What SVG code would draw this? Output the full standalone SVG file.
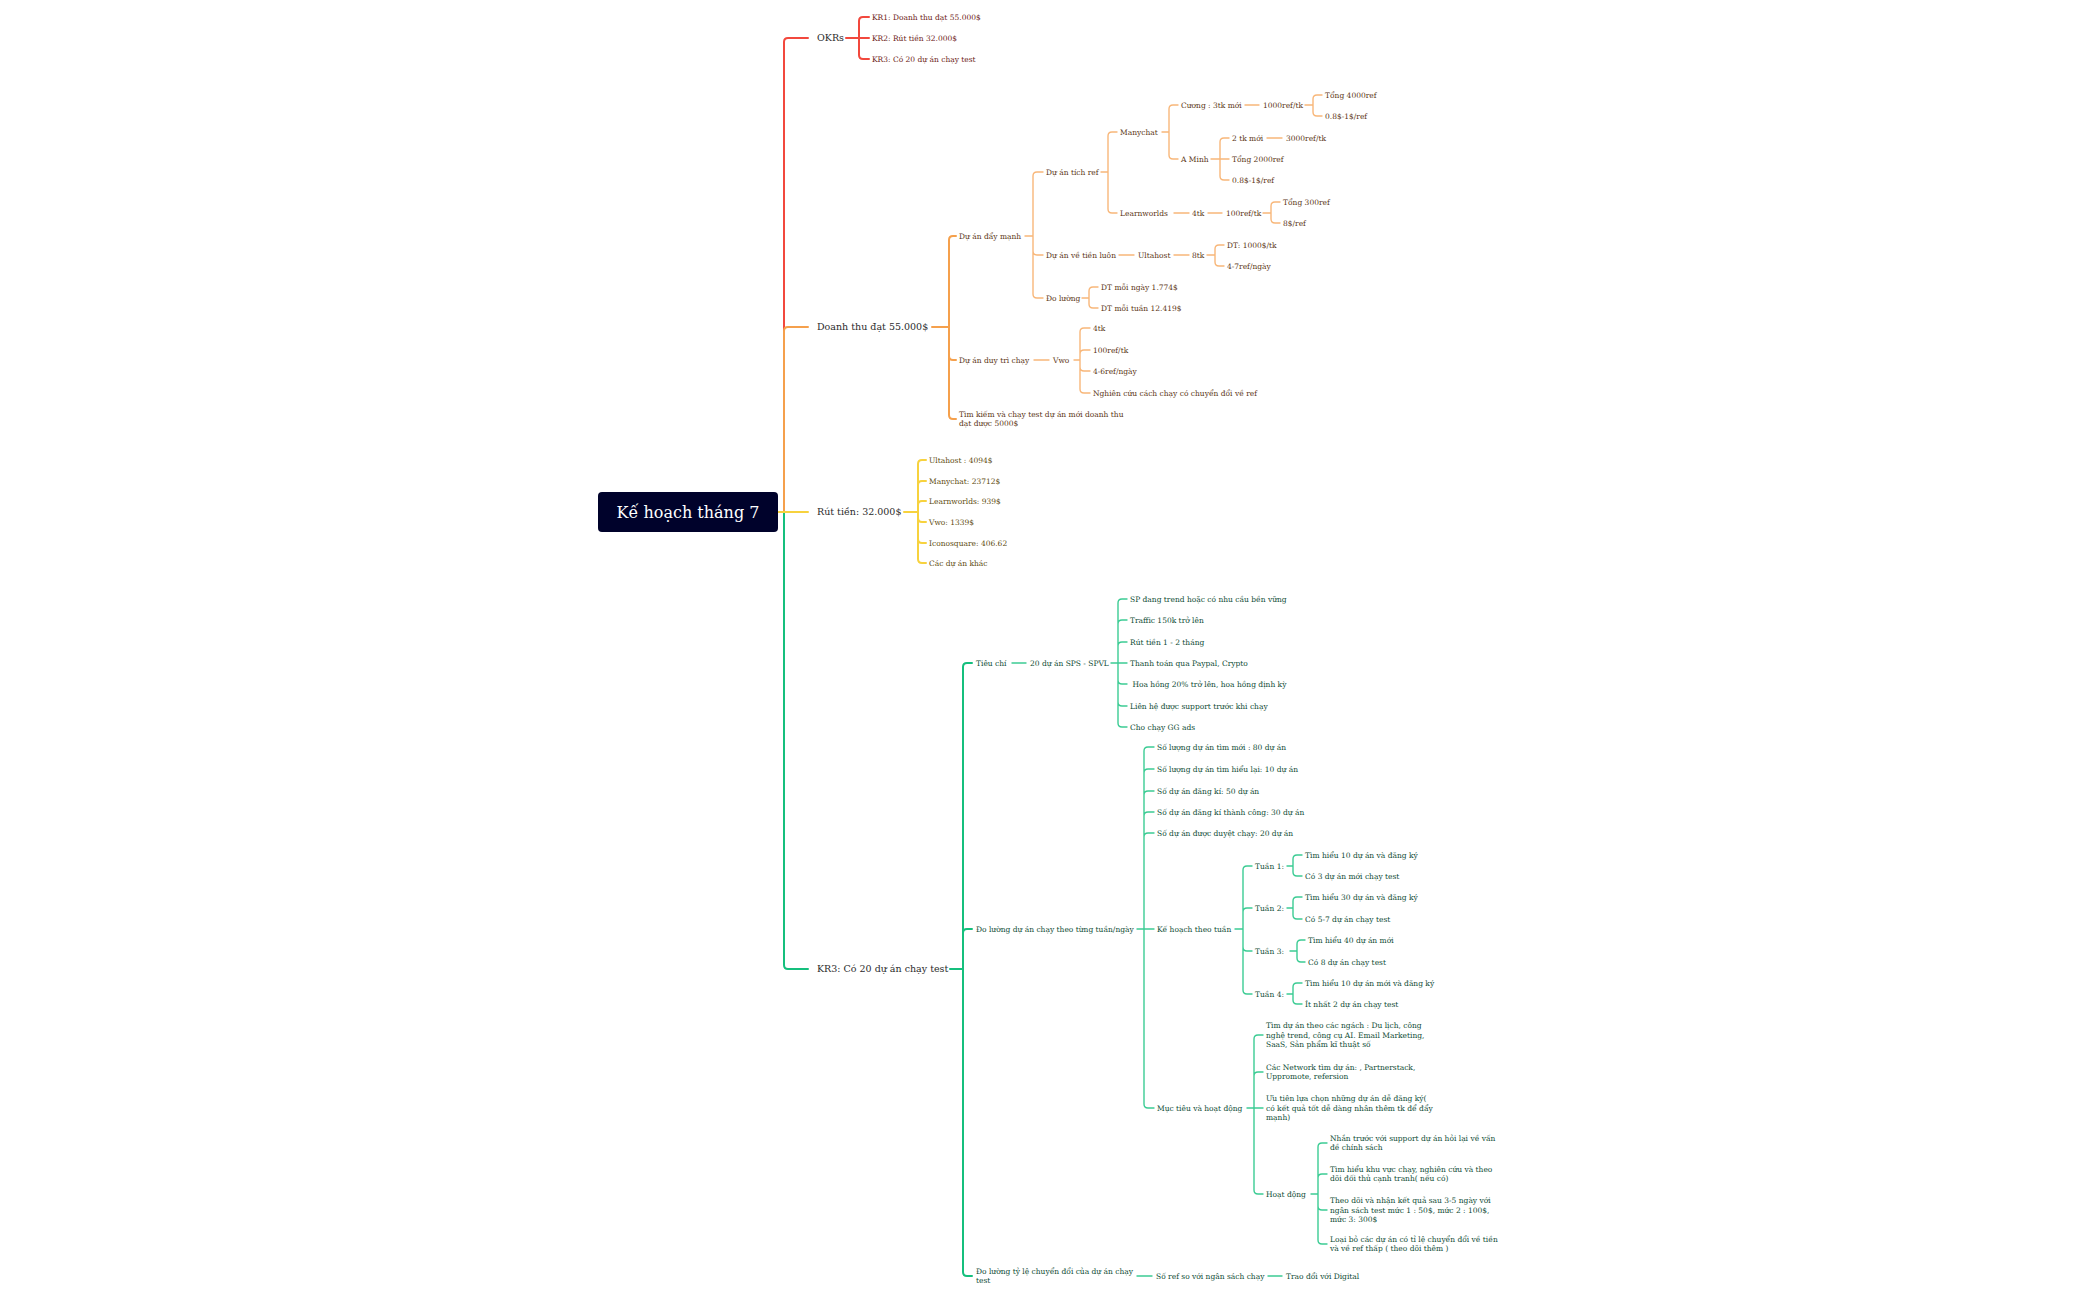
<svg xmlns="http://www.w3.org/2000/svg" width="2100" height="1299" viewBox="0 0 2100 1299">
<style>
text{font-family:"DejaVu Serif","Liberation Serif",serif}
.m{font-size:9.5px;fill:#2b2b2b}
.l{font-size:7.5px}
.tr{fill:#6e1d18}.to{fill:#5c3615}.ty{fill:#5e4c10}.tg{fill:#0f4c35}
.root{font-size:16px;fill:#ffffff}
path{fill:none;stroke-linecap:round;stroke-linejoin:round}
.cr{stroke:#f2483d;stroke-width:2}
.co{stroke:#f5a04c;stroke-width:2}
.co2{stroke:#f8b77a;stroke-width:1.4}
.cy{stroke:#f7d23e;stroke-width:2}
.cg{stroke:#15bf7d;stroke-width:2}
.cg2{stroke:#3ccc94;stroke-width:1.4}
</style>
<rect width="2100" height="1299" fill="#ffffff"/>
<g id="connectors">
<!-- trunk -->
<path class="cr" d="M778,512 H784 V42 Q784,38 788,38 H808"/>
<path class="co" d="M778,512 H784 V331 Q784,327 788,327 H808"/>
<path class="cg" d="M778,512 H784 V965 Q784,969 788,969 H808"/>
<path class="cy" d="M778,512 H808"/>
<!-- OKRs -->
<path class="cr" d="M846,38 H859 M859,38 V21 Q859,17 863,17 H869 M859,38 H869 M859,38 V55 Q859,59 863,59 H869"/>
<!-- Doanh thu -->
<path class="co" d="M932,327 H949 M949,327 V240 Q949,236 953,236 H956 M949,327 V356 Q949,360 953,360 H956 M949,327 V415 Q949,419 953,419 H956"/>
<path class="co2" d="M1025,236 H1033 M1033,236 V176 Q1033,172 1037,172 H1043 M1033,236 V251 Q1033,255 1037,255 H1043 M1033,236 V294 Q1033,298 1037,298 H1043"/>
<path class="co2" d="M1101,172 H1108 M1108,172 V136 Q1108,132 1112,132 H1117 M1108,172 V209 Q1108,213 1112,213 H1117"/>
<path class="co2" d="M1162,132 H1169 M1169,132 V109 Q1169,105 1173,105 H1178 M1169,132 V155 Q1169,159 1173,159 H1178"/>
<path class="co2" d="M1245,105 H1259 M1305,105 H1313 M1313,105 V99 Q1313,95 1317,95 H1322 M1313,105 V112 Q1313,116 1317,116 H1322"/>
<path class="co2" d="M1211,159 H1220 M1220,159 V142 Q1220,138 1224,138 H1229 M1220,159 H1229 M1220,159 V176 Q1220,180 1224,180 H1229 M1267,138 H1282"/>
<path class="co2" d="M1174,213 H1189 M1208,213 H1222 M1263,213 H1271 M1271,213 V206 Q1271,202 1275,202 H1280 M1271,213 V219 Q1271,223 1275,223 H1280"/>
<path class="co2" d="M1119,255 H1134 M1174,255 H1189 M1207,255 H1215 M1215,255 V249 Q1215,245 1219,245 H1224 M1215,255 V262 Q1215,266 1219,266 H1224"/>
<path class="co2" d="M1082,298 H1089 M1089,298 V291 Q1089,287 1093,287 H1098 M1089,298 V304 Q1089,308 1093,308 H1098"/>
<path class="co2" d="M1034,360 H1049 M1074,360 H1080 M1080,360 V332 Q1080,328 1084,328 H1090 M1080,360 V354 Q1080,350 1084,350 H1090 M1080,360 V367 Q1080,371 1084,371 H1090 M1080,360 V389 Q1080,393 1084,393 H1090"/>
<!-- Rut tien -->
<path class="cy" d="M904,512 H918 M918,512 V464 Q918,460 922,460 H926 M918,512 V485 Q918,481 922,481 H926 M918,512 V505 Q918,501 922,501 H926 M918,512 V518 Q918,522 922,522 H926 M918,512 V539 Q918,543 922,543 H926 M918,512 V559 Q918,563 922,563 H926"/>
<!-- KR3 -->
<path class="cg" d="M950,969 H963 M963,969 V667 Q963,663 967,663 H972 M963,969 V933 Q963,929 967,929 H972 M963,969 V1272 Q963,1276 967,1276 H972"/>
<path class="cg2" d="M1012,663 H1026 M1111,663 H1118 M1118,663 V603 Q1118,599 1122,599 H1127 M1118,663 V624 Q1118,620 1122,620 H1127 M1118,663 V646 Q1118,642 1122,642 H1127 M1118,663 H1127 M1118,663 V680 Q1118,684 1122,684 H1127 M1118,663 V702 Q1118,706 1122,706 H1127 M1118,663 V723 Q1118,727 1122,727 H1127"/>
<path class="cg2" d="M1137,929 H1144 M1144,929 V751 Q1144,747 1148,747 H1154 M1144,929 V773 Q1144,769 1148,769 H1154 M1144,929 V795 Q1144,791 1148,791 H1154 M1144,929 V816 Q1144,812 1148,812 H1154 M1144,929 V837 Q1144,833 1148,833 H1154 M1144,929 H1154 M1144,929 V1104 Q1144,1108 1148,1108 H1154"/>
<path class="cg2" d="M1235,929 H1243 M1243,929 V870 Q1243,866 1247,866 H1252 M1243,929 V912 Q1243,908 1247,908 H1252 M1243,929 V947 Q1243,951 1247,951 H1252 M1243,929 V990 Q1243,994 1247,994 H1252"/>
<path class="cg2" d="M1287,866 H1293 M1293,866 V859 Q1293,855 1297,855 H1302 M1293,866 V872 Q1293,876 1297,876 H1302"/>
<path class="cg2" d="M1287,908 H1293 M1293,908 V901 Q1293,897 1297,897 H1302 M1293,908 V915 Q1293,919 1297,919 H1302"/>
<path class="cg2" d="M1290,951 H1297 M1297,951 V944 Q1297,940 1301,940 H1305 M1297,951 V958 Q1297,962 1301,962 H1305"/>
<path class="cg2" d="M1287,994 H1293 M1293,994 V987 Q1293,983 1297,983 H1302 M1293,994 V1000 Q1293,1004 1297,1004 H1302"/>
<path class="cg2" d="M1247,1108 H1254 M1254,1108 V1039 Q1254,1035 1258,1035 H1263 M1254,1108 V1076 Q1254,1072 1258,1072 H1263 M1254,1108 H1263 M1254,1108 V1190 Q1254,1194 1258,1194 H1263"/>
<path class="cg2" d="M1311,1194 H1318 M1318,1194 V1147 Q1318,1143 1322,1143 H1327 M1318,1194 V1178 Q1318,1174 1322,1174 H1327 M1318,1194 V1206 Q1318,1210 1322,1210 H1327 M1318,1194 V1240 Q1318,1244 1322,1244 H1327"/>
<path class="cg2" d="M1137,1276 H1152 M1268,1276 H1282"/>
</g>
<g id="root">
<rect x="598" y="492" width="180" height="40" rx="4" fill="#00022b"/>
<text class="root" x="688" y="517.5" text-anchor="middle">Kế hoạch tháng 7</text>
</g>
<g id="okrs"><text class="m" x="817" y="41.4">OKRs</text></g>
<g id="okr-kr1"><text class="l tr" x="872" y="19.7">KR1: Doanh thu đạt 55.000$</text></g>
<g id="okr-kr2"><text class="l tr" x="872" y="40.7">KR2: Rút tiền 32.000$</text></g>
<g id="okr-kr3"><text class="l tr" x="872" y="61.7">KR3: Có 20 dự án chạy test</text></g>

<g id="doanhthu"><text class="m" x="817" y="330.4">Doanh thu đạt 55.000$</text></g>
<g id="dt-daymanh"><text class="l to" x="959" y="238.7">Dự án đẩy mạnh</text></g>
<g id="dt-tichref"><text class="l to" x="1046" y="174.7">Dự án tích ref</text></g>
<g id="dt-manychat"><text class="l to" x="1120" y="134.7">Manychat</text></g>
<g id="dt-cuong"><text class="l to" x="1181" y="107.7">Cương : 3tk mới</text></g>
<g id="dt-1000ref"><text class="l to" x="1263" y="107.7">1000ref/tk</text></g>
<g id="dt-tong4000"><text class="l to" x="1325" y="97.7">Tổng 4000ref</text></g>
<g id="dt-gia1"><text class="l to" x="1325" y="118.7">0.8$-1$/ref</text></g>
<g id="dt-aminh"><text class="l to" x="1181" y="161.7">A Minh</text></g>
<g id="dt-2tk"><text class="l to" x="1232" y="140.7">2 tk mới</text></g>
<g id="dt-3000ref"><text class="l to" x="1286" y="140.7">3000ref/tk</text></g>
<g id="dt-tong2000"><text class="l to" x="1232" y="161.7">Tổng 2000ref</text></g>
<g id="dt-gia2"><text class="l to" x="1232" y="182.7">0.8$-1$/ref</text></g>
<g id="dt-learnworlds"><text class="l to" x="1120" y="215.7">Learnworlds</text></g>
<g id="dt-4tk"><text class="l to" x="1192" y="215.7">4tk</text></g>
<g id="dt-100ref"><text class="l to" x="1226" y="215.7">100ref/tk</text></g>
<g id="dt-tong300"><text class="l to" x="1283" y="204.7">Tổng 300ref</text></g>
<g id="dt-8ref"><text class="l to" x="1283" y="225.7">8$/ref</text></g>
<g id="dt-vetien"><text class="l to" x="1046" y="257.7">Dự án về tiền luôn</text></g>
<g id="dt-ultahost"><text class="l to" x="1138" y="257.7">Ultahost</text></g>
<g id="dt-8tk"><text class="l to" x="1192" y="257.7">8tk</text></g>
<g id="dt-dt1000"><text class="l to" x="1227" y="247.7">DT: 1000$/tk</text></g>
<g id="dt-47ref"><text class="l to" x="1227" y="268.7">4-7ref/ngày</text></g>
<g id="dt-doluong"><text class="l to" x="1046" y="300.7">Đo lường</text></g>
<g id="dt-ngay"><text class="l to" x="1101" y="289.7">DT mỗi ngày 1.774$</text></g>
<g id="dt-tuan"><text class="l to" x="1101" y="310.7">DT mỗi tuần 12.419$</text></g>
<g id="dt-duytri"><text class="l to" x="959" y="362.7">Dự án duy trì chạy</text></g>
<g id="dt-vwo"><text class="l to" x="1053" y="362.7">Vwo</text></g>
<g id="dt-vwo-4tk"><text class="l to" x="1093" y="330.7">4tk</text></g>
<g id="dt-vwo-100"><text class="l to" x="1093" y="352.7">100ref/tk</text></g>
<g id="dt-vwo-46"><text class="l to" x="1093" y="373.7">4-6ref/ngày</text></g>
<g id="dt-vwo-ncuu"><text class="l to" x="1093" y="395.7">Nghiên cứu cách chạy có chuyển đổi về ref</text></g>
<g id="dt-timkiem"><text class="l to" x="959" y="416.9">Tìm kiếm và chạy test dự án mới doanh thu<tspan x="959" dy="9.5">đạt được 5000$</tspan></text></g>

<g id="ruttien"><text class="m" x="817" y="515.4">Rút tiền: 32.000$</text></g>
<g id="rt-ultahost"><text class="l ty" x="929" y="462.7">Ultahost : 4094$</text></g>
<g id="rt-manychat"><text class="l ty" x="929" y="483.7">Manychat: 23712$</text></g>
<g id="rt-learnworlds"><text class="l ty" x="929" y="503.7">Learnworlds: 939$</text></g>
<g id="rt-vwo"><text class="l ty" x="929" y="524.7">Vwo: 1339$</text></g>
<g id="rt-icono"><text class="l ty" x="929" y="545.7">Iconosquare: 406.62</text></g>
<g id="rt-khac"><text class="l ty" x="929" y="565.7">Các dự án khác</text></g>

<g id="kr3"><text class="m" x="817" y="972.4">KR3: Có 20 dự án chạy test</text></g>
<g id="kr-tieuchi"><text class="l tg" x="976" y="665.7">Tiêu chí</text></g>
<g id="kr-20duan"><text class="l tg" x="1030" y="665.7">20 dự án SPS - SPVL</text></g>
<g id="kr-tc1"><text class="l tg" x="1130" y="601.7">SP đang trend hoặc có nhu cầu bền vững</text></g>
<g id="kr-tc2"><text class="l tg" x="1130" y="622.7">Traffic 150k trở lên</text></g>
<g id="kr-tc3"><text class="l tg" x="1130" y="644.7">Rút tiền 1 - 2 tháng</text></g>
<g id="kr-tc4"><text class="l tg" x="1130" y="665.7">Thanh toán qua Paypal, Crypto</text></g>
<g id="kr-tc5"><text class="l tg" x="1130" y="686.7" xml:space="preserve"> Hoa hồng 20% trở lên, hoa hồng định kỳ</text></g>
<g id="kr-tc6"><text class="l tg" x="1130" y="708.7">Liên hệ được support trước khi chạy</text></g>
<g id="kr-tc7"><text class="l tg" x="1130" y="729.7">Cho chạy GG ads</text></g>
<g id="kr-doluong"><text class="l tg" x="976" y="931.7">Đo lường dự án chạy theo từng tuần/ngày</text></g>
<g id="kr-sl1"><text class="l tg" x="1157" y="749.7">Số lượng dự án tìm mới : 80 dự án</text></g>
<g id="kr-sl2"><text class="l tg" x="1157" y="771.7">Số lượng dự án tìm hiểu lại: 10 dự án</text></g>
<g id="kr-sl3"><text class="l tg" x="1157" y="793.7">Số dự án đăng kí: 50 dự án</text></g>
<g id="kr-sl4"><text class="l tg" x="1157" y="814.7">Số dự án đăng kí thành công: 30 dự án</text></g>
<g id="kr-sl5"><text class="l tg" x="1157" y="835.7">Số dự án được duyệt chạy: 20 dự án</text></g>
<g id="kr-kehoach"><text class="l tg" x="1157" y="931.7">Kế hoạch theo tuần</text></g>
<g id="kr-tuan1"><text class="l tg" x="1255" y="868.7">Tuần 1:</text></g>
<g id="kr-t1a"><text class="l tg" x="1305" y="857.7">Tìm hiểu 10 dự án và đăng ký</text></g>
<g id="kr-t1b"><text class="l tg" x="1305" y="878.7">Có 3 dự án mới chạy test</text></g>
<g id="kr-tuan2"><text class="l tg" x="1255" y="910.7">Tuần 2:</text></g>
<g id="kr-t2a"><text class="l tg" x="1305" y="899.7">Tìm hiểu 30 dự án và đăng ký</text></g>
<g id="kr-t2b"><text class="l tg" x="1305" y="921.7">Có 5-7 dự án chạy test</text></g>
<g id="kr-tuan3"><text class="l tg" x="1255" y="953.7">Tuần 3:</text></g>
<g id="kr-t3a"><text class="l tg" x="1308" y="942.7">Tìm hiểu 40 dự án mới</text></g>
<g id="kr-t3b"><text class="l tg" x="1308" y="964.7">Có 8 dự án chạy test</text></g>
<g id="kr-tuan4"><text class="l tg" x="1255" y="996.7">Tuần 4:</text></g>
<g id="kr-t4a"><text class="l tg" x="1305" y="985.7">Tìm hiểu 10 dự án mới và đăng ký</text></g>
<g id="kr-t4b"><text class="l tg" x="1305" y="1006.7">Ít nhất 2 dự án chạy test</text></g>
<g id="kr-muctieu"><text class="l tg" x="1157" y="1110.7">Mục tiêu và hoạt động</text></g>
<g id="kr-mt1"><text class="l tg" x="1266" y="1028.2">Tìm dự án theo các ngách : Du lịch, công<tspan x="1266" dy="9.5">nghệ trend, công cụ AI. Email Marketing,</tspan><tspan x="1266" dy="9.5">SaaS, Sản phẩm kĩ thuật số</tspan></text></g>
<g id="kr-mt2"><text class="l tg" x="1266" y="1069.9">Các Network tìm dự án: , Partnerstack,<tspan x="1266" dy="9.5">Uppromote, refersion</tspan></text></g>
<g id="kr-mt3"><text class="l tg" x="1266" y="1101.2">Ưu tiên lựa chọn những dự án dễ đăng ký(<tspan x="1266" dy="9.5">có kết quả tốt dễ dàng nhân thêm tk để đẩy</tspan><tspan x="1266" dy="9.5">mạnh)</tspan></text></g>
<g id="kr-hoatdong"><text class="l tg" x="1266" y="1196.7">Hoạt động</text></g>
<g id="kr-hd1"><text class="l tg" x="1330" y="1140.9">Nhắn trước với support dự án hỏi lại về vấn<tspan x="1330" dy="9.5">đề chính sách</tspan></text></g>
<g id="kr-hd2"><text class="l tg" x="1330" y="1171.9">Tìm hiểu khu vực chạy, nghiên cứu và theo<tspan x="1330" dy="9.5">dõi đối thủ cạnh tranh( nếu có)</tspan></text></g>
<g id="kr-hd3"><text class="l tg" x="1330" y="1203.2">Theo dõi và nhận kết quả sau 3-5 ngày với<tspan x="1330" dy="9.5">ngân sách test mức 1 : 50$, mức 2 : 100$,</tspan><tspan x="1330" dy="9.5">mức 3: 300$</tspan></text></g>
<g id="kr-hd4"><text class="l tg" x="1330" y="1241.9">Loại bỏ các dự án có tỉ lệ chuyển đổi về tiền<tspan x="1330" dy="9.5">và về ref thấp ( theo dõi thêm )</tspan></text></g>
<g id="kr-tyle"><text class="l tg" x="976" y="1273.9">Đo lường tỷ lệ chuyển đổi của dự án chạy<tspan x="976" dy="9.5">test</tspan></text></g>
<g id="kr-soref"><text class="l tg" x="1156" y="1278.7">Số ref so với ngân sách chạy</text></g>
<g id="kr-traodoi"><text class="l tg" x="1286" y="1278.7">Trao đổi với Digital</text></g>
</svg>
